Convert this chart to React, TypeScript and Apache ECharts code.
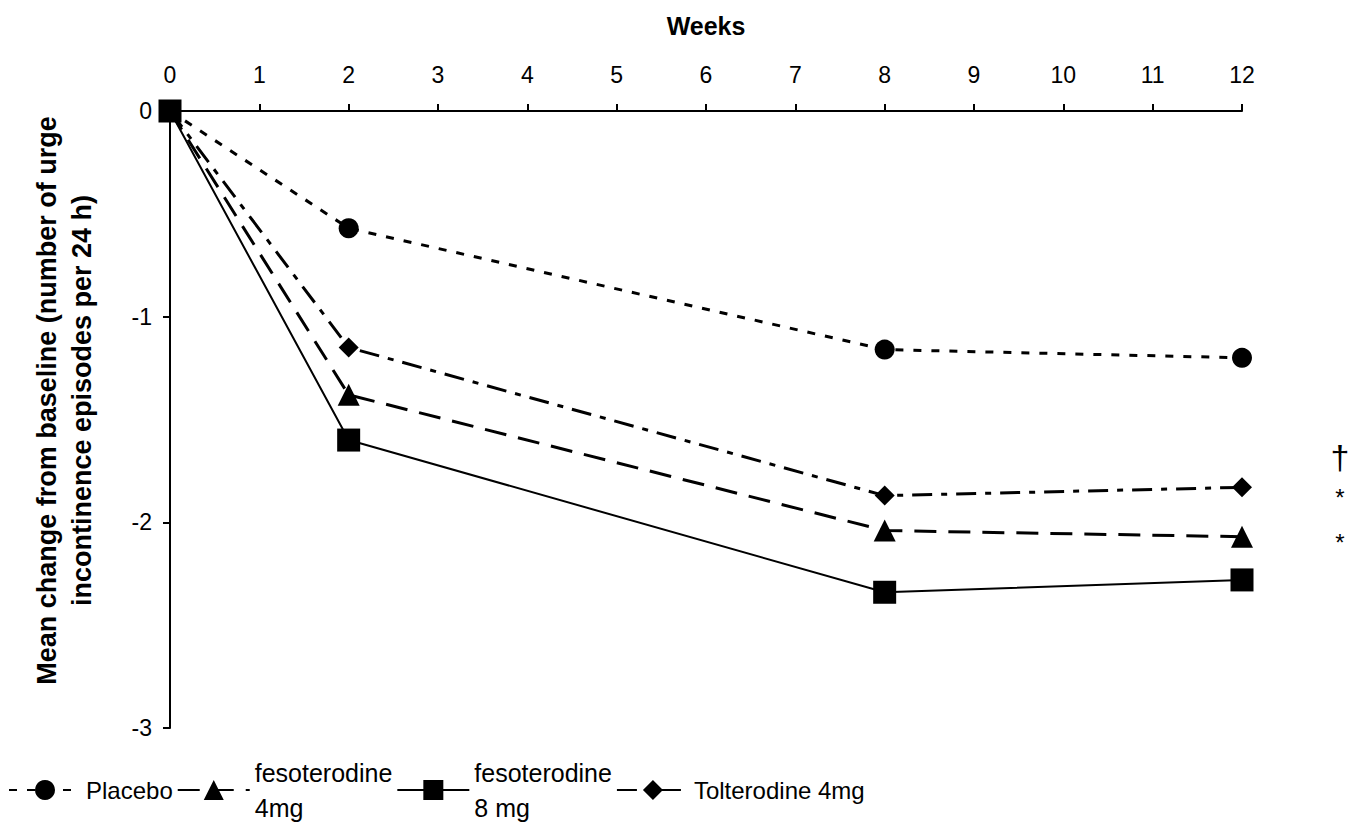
import React, { useEffect, useRef } from "react";
import * as echarts from "echarts";

const weeks = [0, 2, 8, 12];
const placebo = [0, -0.57, -1.16, -1.2];
const feso4 = [0, -1.38, -2.04, -2.07];
const feso8 = [0, -1.6, -2.34, -2.28];
const tolterodine = [0, -1.15, -1.87, -1.83];
const xTicks = [0, 12];
const yTicks = [-3, 0];
const annotations = [
  { text: "†", yValue: -1.68 },
  { text: "*", yValue: -1.88 },
  { text: "*", yValue: -2.1 },
];

const FONT = "'Liberation Sans', Arial, sans-serif";

export default function App() {
  const ref = useRef<HTMLDivElement>(null);
  useEffect(() => {
    document.body.style.margin = "0";
    const chart = echarts.init(ref.current!, null, { renderer: "svg" });
    const pairs = (vals: number[]) => weeks.map((w, i) => [w, vals[i]]);
    const mk = (
      name: string,
      vals: number[],
      symbol: string,
      symbolSize: number,
      type: any,
      width: number
    ) => ({
      name,
      type: "line",
      data: pairs(vals),
      symbol,
      symbolSize,
      lineStyle: { color: "#000", width, type },
      itemStyle: { color: "#000" },
      emphasis: { disabled: true },
    });
    const grid = { left: 170, top: 111, right: 125, bottom: 103 };
    chart.setOption({
      animation: false,
      textStyle: { fontFamily: FONT },
      grid,
      xAxis: {
        type: "value",
        position: "top",
        min: xTicks[0],
        max: xTicks[1],
        interval: 1,
        name: "Weeks",
        nameLocation: "middle",
        nameGap: 73,
        nameTextStyle: { fontFamily: FONT, fontWeight: "bold", fontSize: 25, color: "#000" },
        axisLine: { lineStyle: { color: "#000", width: 2 } },
        axisTick: { inside: false, length: 7, lineStyle: { color: "#000", width: 2 } },
        axisLabel: { fontFamily: FONT, fontSize: 23, color: "#000", margin: 25 },
        splitLine: { show: false },
      },
      yAxis: {
        type: "value",
        min: yTicks[0],
        max: yTicks[1],
        interval: 1,
        name: "Mean change from baseline (number of urge\nincontinence episodes per 24 h)",
        nameLocation: "middle",
        nameGap: 71,
        nameRotate: 90,
        nameTextStyle: {
          fontFamily: FONT,
          fontWeight: "bold",
          fontSize: 27,
          lineHeight: 35,
          color: "#000",
          padding: [0, 0, 0, 38],
        },
        axisLine: { show: true, lineStyle: { color: "#000", width: 2 } },
        axisTick: { show: true, inside: false, length: 7, lineStyle: { color: "#000", width: 2 } },
        axisLabel: { fontFamily: FONT, fontSize: 23, color: "#000", margin: 18 },
        splitLine: { show: false },
      },
      legend: {
        left: 3,
        top: 750,
        itemWidth: 72,
        itemHeight: 25,
        itemGap: 4,
        textStyle: {
          fontFamily: FONT,
          fontSize: 24,
          lineHeight: 35,
          color: "#000",
          rich: { big: { fontFamily: FONT, fontSize: 25, lineHeight: 35, color: "#000" } },
        },
        formatter: (n: string) =>
          n === "fesoterodine 4mg"
            ? "{big|fesoterodine}\n{big|4mg}"
            : n === "fesoterodine 8 mg"
            ? "{big|fesoterodine}\n{big|8 mg}"
            : n,
        data: ["Placebo", "fesoterodine 4mg", "fesoterodine 8 mg", "Tolterodine 4mg"],
      },
      series: [
        mk("Placebo", placebo, "circle", 20, [8, 10], 3),
        mk("Tolterodine 4mg", tolterodine, "diamond", 20, [20, 9, 6, 9], 3),
        mk("fesoterodine 4mg", feso4, "triangle", 22, [22, 12], 3),
        mk("fesoterodine 8 mg", feso8, "rect", 23, "solid", 2),
      ],
    });
    const els = annotations.map((a) => {
      const p = chart.convertToPixel({ gridIndex: 0 }, [12, a.yValue]);
      return {
        type: "text",
        x: 1340,
        y: p[1],
        style: {
          text: a.text,
          fontFamily: FONT,
          fontSize: a.text === "†" ? 34 : 24,
          fill: "#000",
          align: "center",
          verticalAlign: "middle",
        },
      };
    });
    chart.setOption({ graphic: els });
    return () => chart.dispose();
  }, []);
  return <div ref={ref} style={{ width: 1367, height: 831 }} />;
}
